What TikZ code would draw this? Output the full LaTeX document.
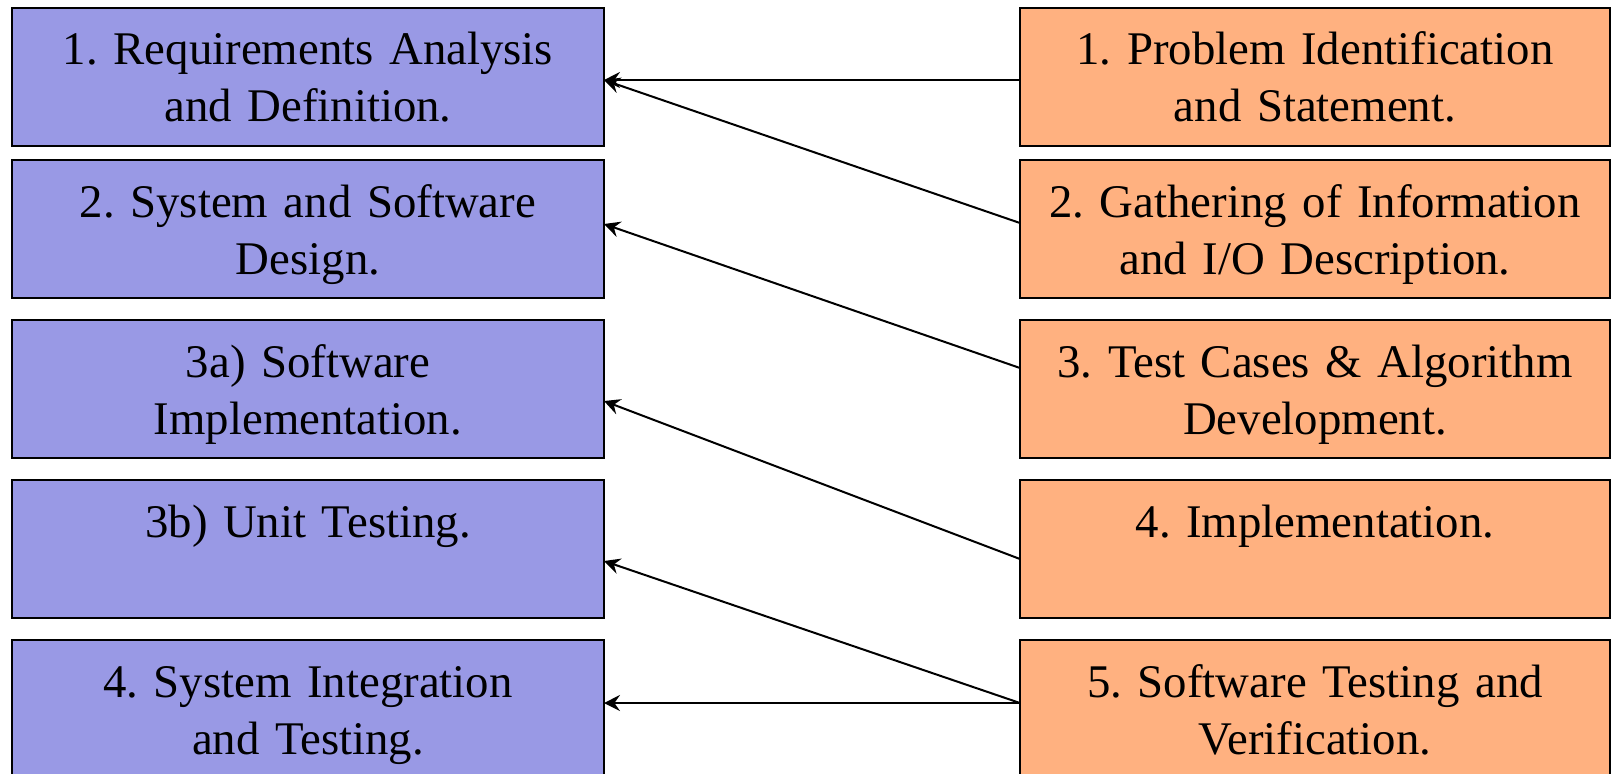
\documentclass[tikz,border=0pt]{standalone}
\usepackage{fontspec}
\setmainfont{Liberation Serif}
\usetikzlibrary{arrows.meta,calc}
\definecolor{phaseblue}{RGB}{153,153,229}
\definecolor{steporange}{RGB}{255,177,128}
\frenchspacing
\begin{document}
\begin{tikzpicture}[x=0.5pt,y=-0.5pt,
  box/.style={draw, line width=1pt, rectangle, anchor=north west,
    inner sep=0pt, outer sep=0pt, align=center,
    text height=28.5pt, text depth=40.5pt,
    font=\fontsize{23.4}{28.6}\selectfont},
  lbox/.style={box, fill=phaseblue, text width=296pt, minimum width=296pt},
  rbox/.style={box, fill=steporange, text width=295pt, minimum width=295pt},
  link/.style={-{Stealth[length=8pt,width=8pt,inset=2.8pt]}, line width=1pt}]
\useasboundingbox (0,0) rectangle (1612,773);

% waterfall phases
\node[lbox] (l1) at (12,7.5) {1. Requirements Analysis\\and Definition.};
\node[lbox] (l2) at (12,160) {2. System and Software\\Design.};
\node[lbox] (l3) at (12,320) {3a) Software\\Implementation.};
\node[lbox] (l4) at (12,480) {3b) Unit Testing.};
\node[lbox] (l5) at (12,640) {4. System Integration\\and Testing.};

% problem-solving steps
\node[rbox] (r1) at (1020,7.5) {1. Problem Identification\\and Statement.};
\node[rbox] (r2) at (1020,160) {2. Gathering of Information\\and I/O Description.};
\node[rbox] (r3) at (1020,320) {3. Test Cases \& Algorithm\\Development.};
\node[rbox] (r4) at (1020,480) {4. Implementation.};
\node[rbox] (r5) at (1020,640) {5. Software Testing and\\Verification.};

% correspondences
\draw[link] ($(r1.north west)+(0,72.5)$) -- ($(l1.north east)+(0,72.5)$);
\draw[link] ($(r2.north west)+(0,63)$) -- ($(l1.north east)+(0,72.5)$);
\draw[link] ($(r3.north west)+(0,48)$) -- ($(l2.north east)+(0,64)$);
\draw[link] ($(r4.north west)+(0,79)$) -- ($(l3.north east)+(0,81)$);
\draw[link] ($(r5.north west)+(0,63)$) -- ($(l4.north east)+(0,81)$);
\draw[link] ($(r5.north west)+(0,63)$) -- ($(l5.north east)+(0,63)$);
\end{tikzpicture}
\end{document}
